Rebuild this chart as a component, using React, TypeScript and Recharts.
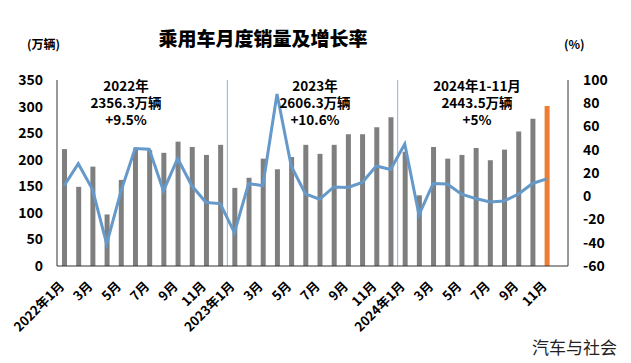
import React from "react";
import {
  ComposedChart,
  Bar,
  Line,
  XAxis,
  YAxis,
  Cell,
  ReferenceLine,
} from "recharts";

// Categories: Jan 2022 .. Dec 2024 (Dec 2024 empty)
const months: string[] = [
  "2022年1月", "2022年2月", "2022年3月", "2022年4月", "2022年5月", "2022年6月",
  "2022年7月", "2022年8月", "2022年9月", "2022年10月", "2022年11月", "2022年12月",
  "2023年1月", "2023年2月", "2023年3月", "2023年4月", "2023年5月", "2023年6月",
  "2023年7月", "2023年8月", "2023年9月", "2023年10月", "2023年11月", "2023年12月",
  "2024年1月", "2024年2月", "2024年3月", "2024年4月", "2024年5月", "2024年6月",
  "2024年7月", "2024年8月", "2024年9月", "2024年10月", "2024年11月", "2024年12月",
];

// Monthly sales (万辆)
const sales: (number | null)[] = [
  220, 149, 187, 97, 162, 221, 218, 213, 234, 224, 209, 228,
  147, 166, 202, 182, 205, 228, 211, 228, 248, 248, 261, 280,
  215, 133, 224, 202, 209, 222, 199, 219, 253, 277, 301, null,
];

// Year-on-year growth (%)
const growth: (number | null)[] = [
  9, 28, 6, -41, 4, 41, 40.5, 4.6, 32.5, 9, -5.4, -6.3,
  -31.3, 11, 9, 88, 26, 2, -2.6, 8, 7.5, 11.8, 26, 23,
  45, -16, 11, 10.5, 1.8, -2, -4.9, -4, 1.8, 11, 15, null,
];

const leftTicks = [0, 50, 100, 150, 200, 250, 300, 350];
const rightTicks = [-60, -40, -20, 0, 20, 40, 60, 80, 100];

const yearNotes: { lines: string[]; left: number }[] = [
  { lines: ["2022年", "2356.3万辆", "+9.5%"], left: 126 },
  { lines: ["2023年", "2606.3万辆", "+10.6%"], left: 315 },
  { lines: ["2024年1-11月", "2443.5万辆", "+5%"], left: 477 },
];

const data = months.map((m, i) => ({ month: m, sales: sales[i], growth: growth[i] }));

const FONT = "'Noto Sans CJK SC', 'Noto Sans', sans-serif";

const formatTick = (m: string) => {
  const rest = m.split("年")[1];
  return rest === "1月" ? m : rest;
};

const XTick = (props: any) => {
  const { x, y, payload } = props;
  const tx = x + 1;
  const ty = y + 13;
  return (
    <text
      x={tx}
      y={ty}
      transform={`rotate(-45 ${tx} ${ty})`}
      textAnchor="end"
      fontFamily={FONT}
      fontWeight={700}
      fontSize={13}
      fill="#000"
    >
      {formatTick(payload.value)}
    </text>
  );
};

export default function App() {
  return (
    <div
      style={{
        position: "absolute",
        left: 0,
        top: 0,
        width: 631,
        height: 363,
        background: "#fff",
        fontFamily: FONT,
      }}
    >
      <ComposedChart
        width={631}
        height={363}
        data={data}
        margin={{ top: 80, right: 0, bottom: 0, left: 0 }}
        barCategoryGap={0}
      >
        <XAxis
          dataKey="month"
          interval={1}
          tickLine={false}
          axisLine={{ stroke: "#333", strokeWidth: 1 }}
          height={97}
          tick={<XTick />}
        />
        <YAxis
          yAxisId="left"
          orientation="left"
          domain={[0, 350]}
          ticks={leftTicks}
          width={57}
          tickLine={false}
          axisLine={{ stroke: "#333", strokeWidth: 1 }}
          tickMargin={8}
          tick={{ fontFamily: FONT, fontWeight: 700, fontSize: 14, fill: "#000" }}
          interval={0}
        />
        <YAxis
          yAxisId="right"
          orientation="right"
          domain={[-60, 100]}
          ticks={rightTicks}
          width={63}
          tickLine={false}
          axisLine={{ stroke: "#333", strokeWidth: 1 }}
          tickMargin={9}
          tick={{ fontFamily: FONT, fontWeight: 700, fontSize: 14, fill: "#000" }}
          interval={0}
        />
        <ReferenceLine
          yAxisId="left"
          x="2023年1月"
          position="start"
          stroke="#8db3d9"
          strokeWidth={1}
        />
        <ReferenceLine
          yAxisId="left"
          x="2024年1月"
          position="start"
          stroke="#8db3d9"
          strokeWidth={1}
        />
        <Bar yAxisId="left" dataKey="sales" barSize={5} fill="#7f7f7f" isAnimationActive={false}>
          {data.map((d, i) => (
            <Cell key={i} fill={i === 34 ? "#ed7d31" : "#7f7f7f"} />
          ))}
        </Bar>
        <Line
          yAxisId="right"
          dataKey="growth"
          type="linear"
          stroke="#6499c9"
          strokeWidth={3}
          dot={false}
          isAnimationActive={false}
        />
      </ComposedChart>

      <div
        style={{
          position: "absolute",
          left: 0,
          width: 526,
          top: 25,
          textAlign: "center",
          fontSize: 19,
          fontWeight: 900,
          color: "#000",
          lineHeight: "26px",
        }}
      >
        乘用车月度销量及增长率
      </div>
      <div style={{ position: "absolute", left: 27, top: 36, fontSize: 12, fontWeight: 700, lineHeight: "16px" }}>
        (万辆)
      </div>
      <div style={{ position: "absolute", left: 564, top: 36, fontSize: 12, fontWeight: 700, lineHeight: "16px" }}>
        (%)
      </div>
      {yearNotes.map((n, i) => (
        <div
          key={i}
          style={{
            position: "absolute",
            left: n.left - 60,
            width: 120,
            top: 77,
            textAlign: "center",
            fontSize: 13.5,
            fontWeight: 700,
            lineHeight: "17px",
            color: "#000",
          }}
        >
          {n.lines.map((l, j) => (
            <div key={j}>{l}</div>
          ))}
        </div>
      ))}
      <div
        style={{
          position: "absolute",
          left: 532,
          top: 336,
          fontSize: 17,
          fontWeight: 400,
          color: "#222",
          lineHeight: "22px",
        }}
      >
        汽车与社会
      </div>
    </div>
  );
}
